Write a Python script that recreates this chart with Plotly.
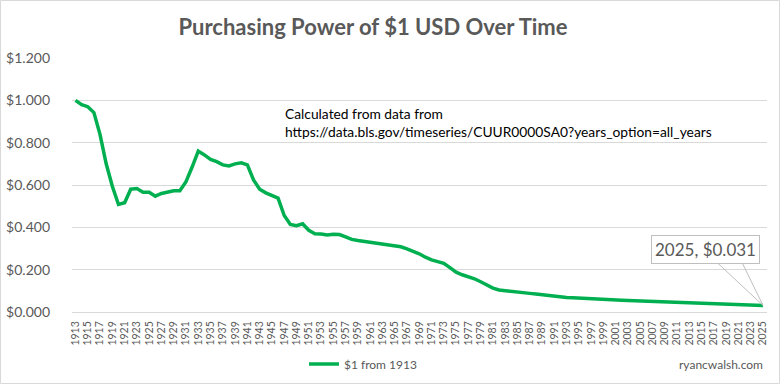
import plotly.graph_objects as go

years = list(range(1913, 2026))
values = [
    1.000, 0.980, 0.970, 0.942, 0.838, 0.700, 0.594, 0.508, 0.516, 0.580,
    0.583, 0.566, 0.566, 0.547, 0.560, 0.566, 0.573, 0.573, 0.616, 0.685,
    0.760, 0.742, 0.721, 0.710, 0.695, 0.690, 0.700, 0.705, 0.695, 0.624,
    0.580, 0.563, 0.551, 0.538, 0.456, 0.414, 0.408, 0.417, 0.386, 0.370,
    0.368, 0.364, 0.367, 0.366, 0.355, 0.343, 0.338, 0.334, 0.329, 0.327,
    0.322, 0.317, 0.314, 0.308, 0.298, 0.287, 0.275, 0.259, 0.246, 0.238,
    0.230, 0.210, 0.188, 0.176, 0.168, 0.157, 0.143, 0.126, 0.113, 0.104,
    0.100, 0.096, 0.093, 0.089, 0.088, 0.085, 0.081, 0.077, 0.073, 0.071,
    0.069, 0.067, 0.065, 0.063, 0.062, 0.061, 0.060, 0.058, 0.056, 0.055,
    0.054, 0.053, 0.051, 0.049, 0.048, 0.046, 0.046, 0.045, 0.045, 0.043,
    0.043, 0.042, 0.042, 0.041, 0.040, 0.040, 0.039, 0.038, 0.037, 0.035,
    0.033, 0.032, 0.031,
]
series_name = "$1 from 1913"
title_text = "Purchasing Power of $1 USD Over Time"
note_lines = ["Calculated from data from",
              "https://data.bls.gov/timeseries/CUUR0000SA0?years_option=all_years"]
watermark = "ryancwalsh.com"

W, H = 780, 384
ML, MR, MT, MB = 72, 13, 58, 72
PW, PH = W - ML - MR, H - MT - MB

def px_x(p):
    return (p - ML) / PW

def px_y(p):
    return (H - MB - p) / PH

GREY = "#595959"
GRID = "#d9d9d9"
FONT = "Lato"

fig = go.Figure()
fig.add_trace(go.Scatter(
    x=years, y=values, mode="lines", name=series_name,
    line=dict(color="#00b050", width=3.5),
))

fig.update_layout(
    template="none",
    width=W, height=H,
    margin=dict(l=ML, r=MR, t=MT, b=MB, autoexpand=False),
    paper_bgcolor="white", plot_bgcolor="white",
    font=dict(family=FONT, color=GREY),
    title=dict(text=title_text, x=373 / W, xref="container", xanchor="center",
               y=1 - 27 / H, yref="container", yanchor="middle",
               font=dict(family=FONT, size=22, color=GREY, weight="bold")),
    showlegend=True,
    legend=dict(orientation="h", x=px_x(363), xanchor="center",
                y=px_y(364), yanchor="middle",
                font=dict(family=FONT, size=12, color=GREY),
                itemwidth=30, bgcolor="rgba(0,0,0,0)", borderwidth=0),
    xaxis=dict(range=[1912.43, 2025.65], tick0=1913, dtick=2, tickangle=-90,
               showgrid=False, showline=True, linecolor=GRID, linewidth=1,
               ticks="", tickfont=dict(family=FONT, size=10.5, color=GREY),
               ticklabelstandoff=4, zeroline=False, automargin=False,
               fixedrange=True),
    yaxis=dict(range=[0, 1.2], dtick=0.2, tickformat="$.3f",
               showgrid=True, gridcolor=GRID, gridwidth=1,
               zeroline=False, showline=False, ticks="",
               tickfont=dict(family=FONT, size=14, color=GREY),
               ticklabelstandoff=21, automargin=False, fixedrange=True),
)

# data note
fig.add_annotation(
    xref="paper", yref="paper", x=px_x(283), y=px_y(103),
    xanchor="left", yanchor="top", align="left", showarrow=False,
    text="<br>".join(note_lines),
    font=dict(family=FONT, size=13.8, color="black"),
)

# end-point callout label
fig.add_annotation(
    x=years[-1], y=values[-1], xref="x", yref="y",
    text=f"{years[-1]}, ${values[-1]:.3f}",
    showarrow=True, arrowcolor="rgba(0,0,0,0)", arrowwidth=0.1, arrowhead=0,
    ax=-58, ay=-56,
    bordercolor="#bfbfbf", borderwidth=1, borderpad=3, bgcolor="white",
    font=dict(family=FONT, size=17, color=GREY),
)
# callout pointer anchored on the last data point
fig.add_shape(
    type="path", xref="x", yref="y",
    xsizemode="pixel", ysizemode="pixel",
    xanchor=years[-1], yanchor=values[-1],
    path="M -46,43 L 0,0 L -21,43",
    line=dict(color="#bfbfbf", width=1),
)

# watermark
fig.add_annotation(
    xref="paper", yref="paper", x=px_x(765), y=px_y(364),
    xanchor="right", yanchor="middle", showarrow=False,
    text=watermark, font=dict(family=FONT, size=12, color=GREY),
)

# chart border
fig.add_shape(
    type="rect", xref="paper", yref="paper",
    x0=px_x(0.5), x1=px_x(W - 0.5), y0=px_y(H - 0.5), y1=px_y(0.5),
    line=dict(color=GRID, width=1), layer="below",
)

fig.write_html(
    "out.html",
    config={"displayModeBar": False},
    post_script="document.body.style.margin='0';document.body.style.overflow='hidden';",
)
